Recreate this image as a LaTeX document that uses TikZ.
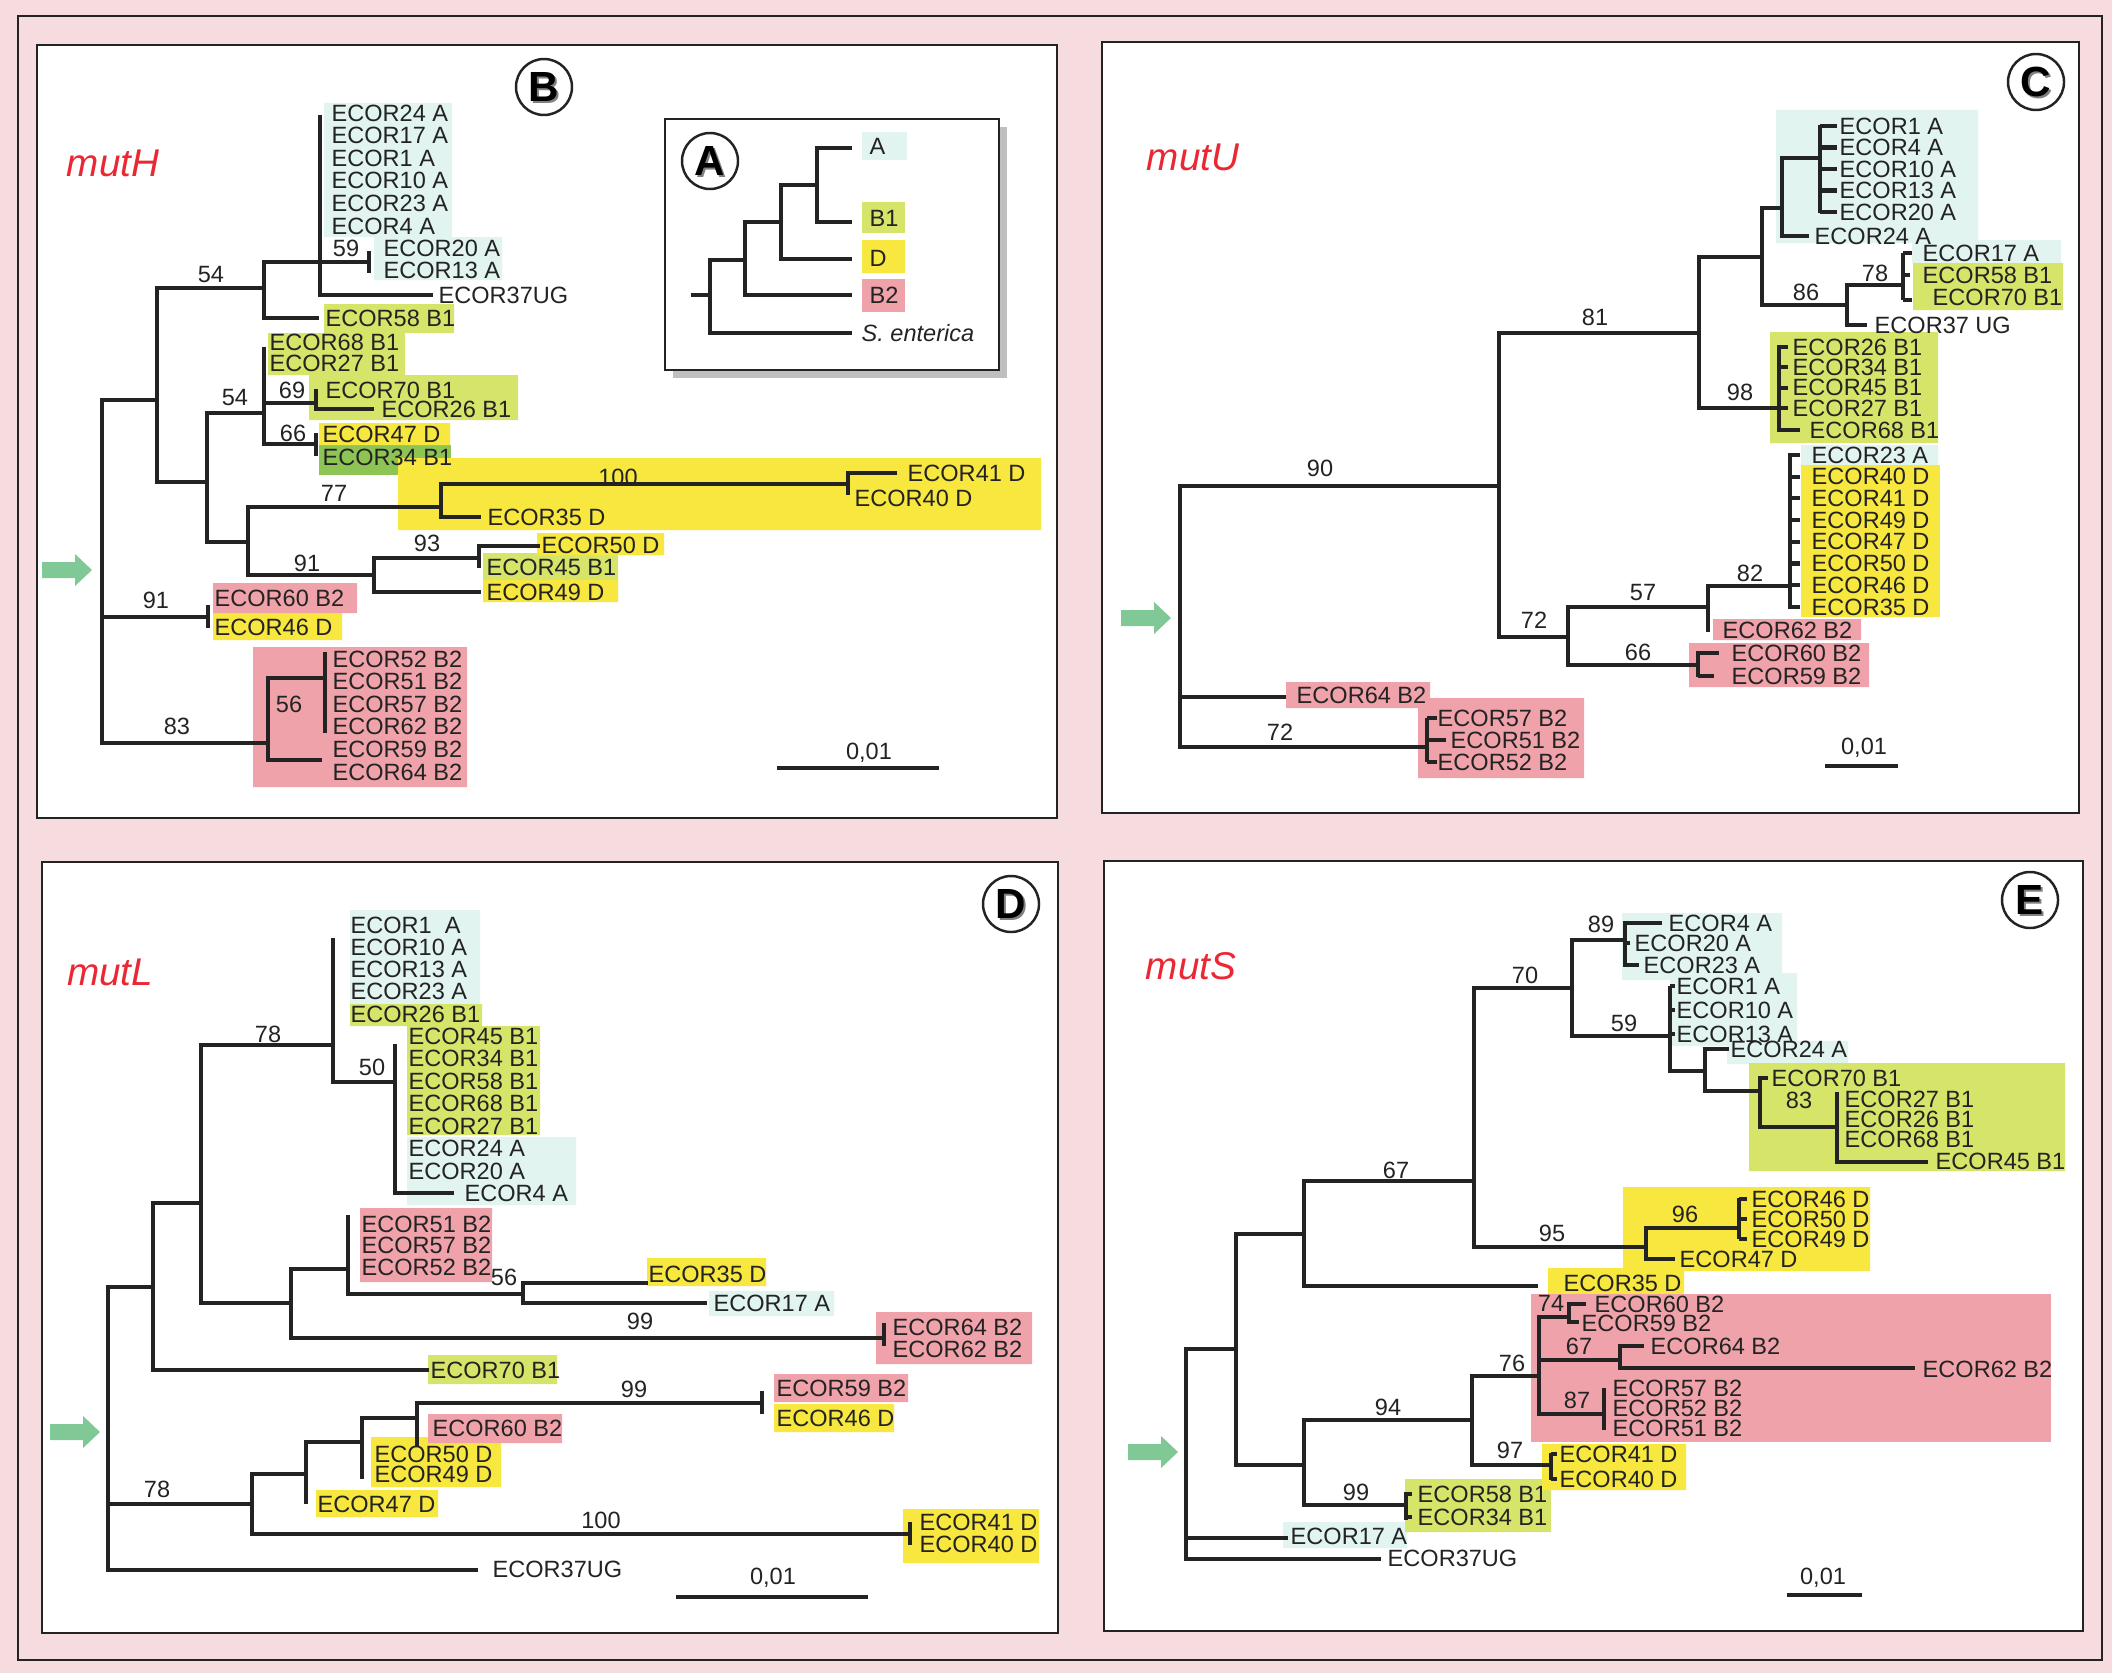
\documentclass[tikz,border=0pt]{standalone}
\usepackage{fontspec}
\setmainfont{Liberation Sans}
\definecolor{bgpink}{RGB}{246,220,223}
\definecolor{grpA}{RGB}{225,244,240}
\definecolor{grpBa}{RGB}{214,229,105}
\definecolor{grpBb}{RGB}{142,196,84}
\definecolor{grpD}{RGB}{247,231,62}
\definecolor{grpBc}{RGB}{240,162,170}
\definecolor{arrowgreen}{RGB}{128,200,150}
\definecolor{genred}{RGB}{234,40,52}
\definecolor{ink}{RGB}{35,35,35}
\newcommand{\greenarrow}[2]{\fill[arrowgreen,shift={(#1,#2)}] (-50,-8) -- (-17,-8) -- (-17,-16) -- (0,0) -- (-17,16) -- (-17,8) -- (-50,8) -- cycle;}
\newcommand{\panelmark}[3]{%
  \node[text=gray,font=\bfseries\fontsize{12}{12}\selectfont] (mk#3s) at (#1+2,#2+2) {#3};
  \node[circle,draw=ink,line width=.7pt,minimum size=5.6mm,inner sep=0pt,font=\bfseries\fontsize{12}{12}\selectfont] (mk#3) at (#1,#2) {#3};}
\begin{document}
\begin{tikzpicture}[x=0.1mm,y=-0.1mm,
  br/.style={draw=ink,line width=1.15pt},
  brt/.style={draw=ink,line width=.95pt},
  lab/.style={anchor=west,inner sep=0pt,text=ink,font=\fontsize{6.7}{7}\selectfont},
  num/.style={inner sep=0pt,text=ink,font=\fontsize{6.7}{7}\selectfont},
  gene/.style={text=genred,font=\itshape\fontsize{11}{11}\selectfont},
  frame/.style={draw=ink,line width=.7pt}]
\useasboundingbox (0,0) rectangle (2112,1673);
\fill[bgpink] (0,0) rectangle (2112,1673);
\draw[frame] (18,16) rectangle (2102,1660);
\foreach \a/\b/\c/\d in {37/45/1057/818,1102/42/2079/813,42/862/1058/1633,1104/861/2083/1631}
  \filldraw[frame,fill=white] (\a,\b) rectangle (\c,\d);

% ---- B : mutH
\node[gene] (gH) at (113,163) {mutH};
\panelmark{544}{87}{B}
\greenarrow{92}{570}
\fill[grpA] (324,103) rectangle (452,237) (374,237) rectangle (502,280);
\fill[grpBa] (324,304) rectangle (454,333) (268,333) rectangle (405,375) (309,375) rectangle (518,420) (483,553) rectangle (618,580);
\fill[grpBb] (319,445) rectangle (451,475);
\fill[grpD] (319,423) rectangle (450,445) (398,458) rectangle (1041,530) (537,533) rectangle (664,555) (483,580) rectangle (618,602) (213,613) rectangle (342,640);
\fill[grpBc] (213,583) rectangle (357,613) (253,647) rectangle (467,787);
\draw[br] (157,400) -| (102,743) -- (268,743) (102,617) -- (208,617);
\draw[br] (264,288) -| (157,482) -- (207,482);
\draw[br] (369,262) -| (264,318) -- (319,318);
\draw[br] (320,115) |- (433,295);
\draw[br] (369,251) -- (369,273);
\draw[br] (264,413) -| (207,542) -- (248,542);
\draw[br] (264,347) -- (264,444) -- (316,444) (264,403) -- (316,403);
\draw[br] (316,389) |- (374,409);
\draw[br] (316,433) -- (316,456);
\draw[br] (441,507) -| (248,575) -- (374,575);
\draw[br] (848,484) -| (441,517) -- (481,517);
\draw[br] (897,473) -| (848,495);
\draw[br] (479,558) -| (374,592) -- (481,592);
\draw[br] (540,546) -| (479,568);
\draw[br] (208,605) -- (208,628);
\draw[br] (325,678) -| (268,760) -- (322,760);
\draw[br] (325,652) -- (325,733);
\foreach \x/\y/\t in {211/275/54,346/248/59,235/398/54,292/390/69,293/433/66,334/493/77,618/477/100,427/543/93,307/563/91,156/600/91,289/704/56,177/726/83}
  \node[num] (hn\x) at (\x,\y) {\t};
\foreach \t [count=\i] in {ECOR24 A,ECOR17 A,ECOR1 A,ECOR10 A,ECOR23 A,ECOR4 A}
  \node[lab] (hA\i) at (331,{113+22.6*(\i-1)}) {\t};
\foreach \t [count=\i] in {ECOR52 B2,ECOR51 B2,ECOR57 B2,ECOR62 B2,ECOR59 B2,ECOR64 B2}
  \node[lab] (hB\i) at (332,{659+22.6*(\i-1)}) {\t};
\foreach \x/\y/\t [count=\i] in {383/248/ECOR20 A,383/270/ECOR13 A,438/295/ECOR37UG,325/318/ECOR58 B1,269/342/ECOR68 B1,269/363/ECOR27 B1,325/390/ECOR70 B1,381/409/ECOR26 B1,322/434/ECOR47 D,322/457/ECOR34 B1,907/473/ECOR41 D,854/498/ECOR40 D,487/517/ECOR35 D,541/545/ECOR50 D,486/567/ECOR45 B1,486/592/ECOR49 D,214/598/ECOR60 B2,214/627/ECOR46 D}
  \node[lab] (hL\i) at (\x,\y) {\t};
\draw[br] (777,768) -- (939,768);
\node[num] (hs) at (869,753) {0,01};

% ---- A : inset
\fill[gray!50] (673,127) rectangle (1007,378);
\filldraw[frame,fill=white] (665,119) rectangle (999,370);
\fill[grpA] (862,132) rectangle (907,160);
\fill[grpBa] (862,202) rectangle (905,233);
\fill[grpD] (862,240) rectangle (905,273);
\fill[grpBc] (862,279) rectangle (905,312);
\draw[br] (691,295) -- (710,295);
\draw[br] (745,260) -| (710,333) -- (852,333);
\draw[br] (781,222) -| (745,295) -- (852,295);
\draw[br] (817,185) -| (781,259) -- (852,259);
\draw[br] (852,148) -| (817,222) -- (852,222);
\foreach \y/\t [count=\i] in {146/A,218/B1,258/D,295/B2}
  \node[lab] (kA\i) at (869,\y) {\t};
\node[lab,font=\itshape\fontsize{6.7}{7}\selectfont] (kS) at (861,333) {S. enterica};
\panelmark{710}{161}{A}

% ---- C : mutU
\node[gene] (gU) at (1193,157) {mutU};
\panelmark{2036}{82}{C}
\greenarrow{1171}{618}
\fill[grpA] (1776,110) rectangle (1978,243) (1912,240) rectangle (2061,263) (1801,445) rectangle (1938,465);
\fill[grpBa] (1913,263) rectangle (2063,310) (1770,332) rectangle (1938,443);
\fill[grpD] (1801,465) rectangle (1940,617);
\fill[grpBc] (1713,619) rectangle (1861,640) (1689,643) rectangle (1869,687) (1286,682) rectangle (1430,708) (1418,698) rectangle (1584,778);
\draw[br] (1499,486) -| (1180,747) -- (1427,747) (1180,697) -- (1286,697);
\draw[br] (1699,333) -| (1499,637) -- (1568,637);
\draw[br] (1762,257) -| (1699,408) -- (1779,408);
\draw[br] (1782,208) -| (1762,305) -- (1847,305);
\draw[br] (1820,158) -| (1782,236) -- (1809,236);
\draw[br] (1820,125) -- (1820,213);
\draw[br] (1903,285) -| (1847,325) -- (1867,325);
\draw[br] (1903,253) -- (1903,300);
\draw[br] (1779,345) |- (1800,430);
\draw[br] (1708,607) -| (1568,665) -- (1698,665);
\draw[br] (1790,586) -| (1708,632);
\draw[br] (1790,453) -- (1790,609);
\draw[br] (1698,651) -- (1698,677);
\draw[br] (1427,718) -- (1427,762);
\foreach \i in {0,...,4} \draw[br] (1820,{126+21.5*\i}) -- +(17,0);
\foreach \i in {0,...,3} \draw[br] (1779,{347+20.3*\i}) -- +(9,0);
\foreach \i in {0,...,7} \draw[br] (1790,{455+21.7*\i}) -- +(10,0);
\foreach \y/\l in {253/9,275/7,300/9} \draw[br] (1903,\y) -- +(\l,0);
\foreach \y/\l in {653/21,676/16} \draw[br] (1698,\y) -- +(\l,0);
\foreach \y/\l in {718/10,740/19,762/10} \draw[br] (1427,\y) -- +(\l,0);
\foreach \x/\y/\t in {1595/317/81,1320/468/90,1534/620/72,1806/292/86,1875/273/78,1740/392/98,1643/593/57,1750/573/82,1638/652/66,1280/732/72}
  \node[num] (un\x) at (\x,\y) {\t};
\foreach \t [count=\i] in {ECOR1 A,ECOR4 A,ECOR10 A,ECOR13 A,ECOR20 A}
  \node[lab] (uA\i) at (1839,{126+21.5*(\i-1)}) {\t};
\foreach \t [count=\i] in {ECOR26 B1,ECOR34 B1,ECOR45 B1,ECOR27 B1}
  \node[lab] (uB\i) at (1792,{347+20.3*(\i-1)}) {\t};
\foreach \t [count=\i] in {ECOR23 A,ECOR40 D,ECOR41 D,ECOR49 D,ECOR47 D,ECOR50 D,ECOR46 D,ECOR35 D}
  \node[lab] (uD\i) at (1811,{455+21.7*(\i-1)}) {\t};
\foreach \x/\y/\t [count=\i] in {1814/236/ECOR24 A,1922/253/ECOR17 A,1922/275/ECOR58 B1,1932/297/ECOR70 B1,1874/325/ECOR37 UG,1809/430/ECOR68 B1,1722/630/ECOR62 B2,1731/653/ECOR60 B2,1731/676/ECOR59 B2,1296/695/ECOR64 B2,1437/718/ECOR57 B2,1450/740/ECOR51 B2,1437/762/ECOR52 B2}
  \node[lab] (uL\i) at (\x,\y) {\t};
\draw[br] (1825,766) -- (1898,766);
\node[num] (us) at (1864,748) {0,01};

% ---- D : mutL
\node[gene] (gL) at (110,972) {mutL};
\panelmark{1011}{904}{D}
\greenarrow{100}{1432}
\fill[grpA] (350,910) rectangle (480,1004) (407,1137) rectangle (576,1205) (709,1291) rectangle (834,1316);
\fill[grpBa] (350,1004) rectangle (482,1026) (407,1026) rectangle (540,1135) (428,1355) rectangle (557,1384);
\fill[grpD] (647,1258) rectangle (766,1286) (774,1404) rectangle (894,1432) (371,1437) rectangle (501,1487) (316,1490) rectangle (438,1517) (903,1509) rectangle (1039,1563);
\fill[grpBc] (360,1208) rectangle (492,1282) (876,1312) rectangle (1032,1364) (774,1374) rectangle (908,1402) (428,1414) rectangle (562,1443);
\draw[brt] (153,1287) -| (108,1570) -- (478,1570) (108,1504) -- (252,1504);
\draw[brt] (201,1203) -| (153,1370) -- (429,1370);
\draw[brt] (333,1045) -| (201,1303) -- (291,1303);
\draw[brt] (333,938) |- (395,1082);
\draw[brt] (395,1044) |- (454,1193);
\draw[brt] (348,1269) -| (291,1338) -- (884,1338);
\draw[brt] (348,1215) |- (523,1294);
\draw[brt] (648,1283) -| (523,1303) -- (707,1303);
\draw[brt] (884,1323) -- (884,1346);
\draw[brt] (306,1474) -| (252,1534) -- (910,1534);
\draw[brt] (910,1522) -- (910,1545);
\draw[brt] (362,1442) -| (306,1504);
\draw[brt] (417,1418) -| (362,1479);
\draw[brt] (762,1403) -| (417,1447);
\draw[brt] (762,1391) -- (762,1414);
\foreach \x/\y/\t in {268/1034/78,372/1067/50,504/1277/56,640/1321/99,157/1489/78,601/1520/100,634/1389/99}
  \node[num] (ln\x) at (\x,\y) {\t};
\foreach \t [count=\i] in {ECOR1~~A,ECOR10 A,ECOR13 A,ECOR23 A,ECOR26 B1}
  \node[lab] (lA\i) at (350,{925+22.25*(\i-1)}) {\t};
\foreach \t [count=\i] in {ECOR45 B1,ECOR34 B1,ECOR58 B1,ECOR68 B1,ECOR27 B1,ECOR24 A,ECOR20 A}
  \node[lab] (lB\i) at (408,{1036+22.5*(\i-1)}) {\t};
\foreach \t [count=\i] in {ECOR51 B2,ECOR57 B2,ECOR52 B2}
  \node[lab] (lC\i) at (361,{1224+21.5*(\i-1)}) {\t};
\foreach \x/\y/\t [count=\i] in {464/1193/ECOR4 A,648/1274/ECOR35 D,713/1303/ECOR17 A,892/1327/ECOR64 B2,892/1349/ECOR62 B2,430/1370/ECOR70 B1,776/1388/ECOR59 B2,776/1418/ECOR46 D,432/1428/ECOR60 B2,374/1454/ECOR50 D,374/1474/ECOR49 D,317/1504/ECOR47 D,919/1522/ECOR41 D,919/1544/ECOR40 D,492/1569/ECOR37UG}
  \node[lab] (lL\i) at (\x,\y) {\t};
\draw[brt] (676,1597) -- (868,1597);
\node[num] (ls) at (773,1578) {0,01};

% ---- E : mutS
\node[gene] (gS) at (1191,966) {mutS};
\panelmark{2030}{900}{E}
\greenarrow{1178}{1452}
\fill[grpA] (1622,913) rectangle (1782,980) (1670,973) rectangle (1797,1046) (1727,1041) rectangle (1848,1064) (1283,1522) rectangle (1407,1548);
\fill[grpBa] (1749,1063) rectangle (2065,1171) (1405,1479) rectangle (1551,1532);
\fill[grpD] (1623,1187) rectangle (1870,1271) (1548,1268) rectangle (1684,1296) (1542,1444) rectangle (1686,1490);
\fill[grpBc] (1531,1294) rectangle (2051,1442);
\draw[brt] (1236,1349) -| (1186,1559) -- (1381,1559) (1186,1538) -- (1288,1538);
\draw[brt] (1304,1234) -| (1236,1465) -- (1304,1465);
\draw[brt] (1474,1181) -| (1304,1286) -- (1538,1286);
\draw[brt] (1572,988) -| (1474,1247) -- (1646,1247);
\draw[brt] (1625,940) -| (1572,1036) -- (1670,1036);
\draw[brt] (1662,923) -| (1625,965) -- (1639,965) (1625,943) -- (1630,943);
\draw[brt] (1670,986) |- (1705,1071);
\draw[brt] (1729,1049) -| (1705,1091) -- (1760,1091);
\draw[brt] (1768,1078) -| (1760,1127) -- (1837,1127);
\draw[brt] (1837,1092) |- (1928,1162);
\draw[brt] (1739,1228) -| (1646,1259) -- (1675,1259);
\draw[brt] (1739,1198) -- (1739,1239);
\draw[brt] (1472,1420) -| (1304,1505) -- (1406,1505);
\draw[brt] (1406,1492) -- (1406,1520);
\draw[brt] (1539,1376) -| (1472,1465) -- (1551,1465);
\draw[brt] (1551,1453) -- (1551,1480);
\draw[brt] (1569,1317) -| (1539,1414) -- (1604,1414) (1539,1360) -- (1620,1360);
\draw[brt] (1586,1304) -| (1569,1322) -- (1579,1322);
\draw[brt] (1644,1346) -| (1620,1368) -- (1915,1368);
\draw[brt] (1604,1388) -- (1604,1430);
\foreach \i in {0,1,2} \draw[brt] (1670,{986+24*\i}) -- +(5,0);
\foreach \i in {0,1,2} \draw[brt] (1739,{1199+20*\i}) -- +(8,0);
\foreach \y in {1494,1517} \draw[brt] (1406,\y) -- +(6,0);
\foreach \y in {1454,1479} \draw[brt] (1551,\y) -- +(6,0);
\foreach \x/\y/\t in {1396/1170/67,1525/975/70,1601/924/89,1624/1023/59,1799/1100/83,1552/1233/95,1685/1214/96,1388/1407/94,1356/1492/99,1512/1363/76,1510/1450/97,1551/1303/74,1579/1346/67,1577/1400/87}
  \node[num] (sn\x) at (\x,\y) {\t};
\foreach \t [count=\i] in {ECOR1 A,ECOR10 A,ECOR13 A}
  \node[lab] (sA\i) at (1676,{986+24*(\i-1)}) {\t};
\foreach \t [count=\i] in {ECOR27 B1,ECOR26 B1,ECOR68 B1}
  \node[lab] (sB\i) at (1844,{1099+20*(\i-1)}) {\t};
\foreach \t [count=\i] in {ECOR46 D,ECOR50 D,ECOR49 D}
  \node[lab] (sD\i) at (1751,{1199+20*(\i-1)}) {\t};
\foreach \t [count=\i] in {ECOR57 B2,ECOR52 B2,ECOR51 B2}
  \node[lab] (sC\i) at (1612,{1388+20*(\i-1)}) {\t};
\foreach \x/\y/\t [count=\i] in {1668/923/ECOR4 A,1634/943/ECOR20 A,1643/965/ECOR23 A,1730/1049/ECOR24 A,1771/1078/ECOR70 B1,1935/1161/ECOR45 B1,1679/1259/ECOR47 D,1563/1283/ECOR35 D,1594/1304/ECOR60 B2,1581/1323/ECOR59 B2,1650/1346/ECOR64 B2,1922/1369/ECOR62 B2,1559/1454/ECOR41 D,1559/1479/ECOR40 D,1417/1494/ECOR58 B1,1417/1517/ECOR34 B1,1290/1536/ECOR17 A,1387/1558/ECOR37UG}
  \node[lab] (sL\i) at (\x,\y) {\t};
\draw[brt] (1787,1595) -- (1862,1595);
\node[num] (ss) at (1823,1578) {0,01};
\end{tikzpicture}
\end{document}
